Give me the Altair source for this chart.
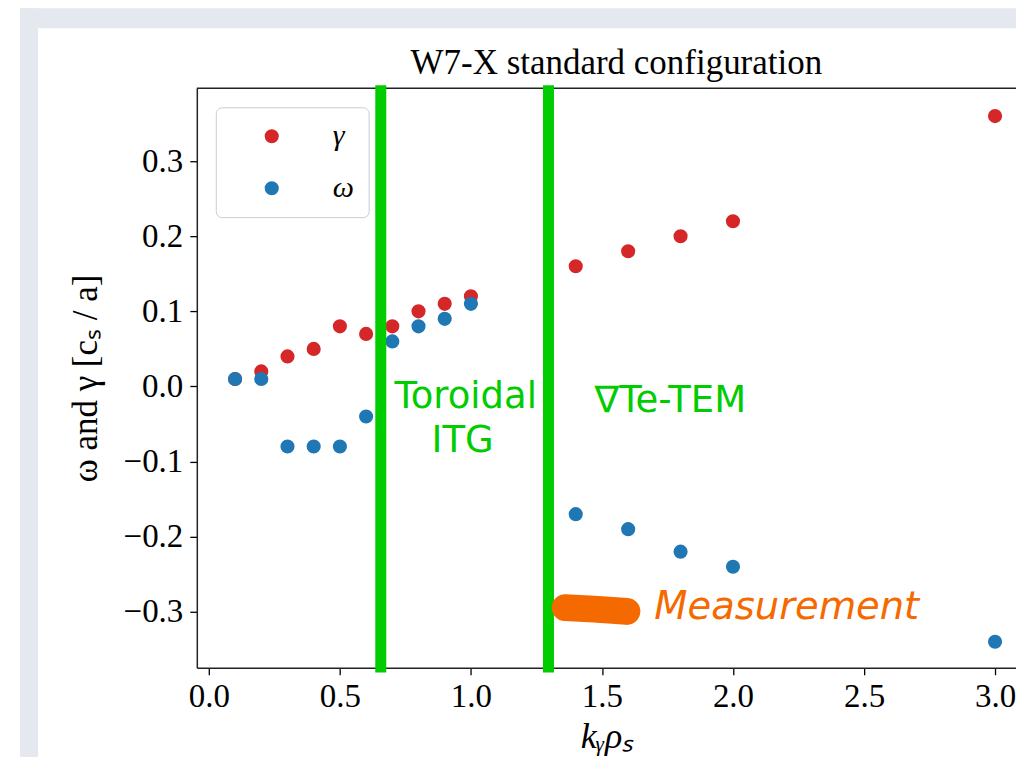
import altair as alt
import pandas as pd

# ---- data ----
ky = [0.1, 0.2, 0.3, 0.4, 0.5, 0.6, 0.7, 0.8, 0.9, 1.0, 1.4, 1.6, 1.8, 2.0, 3.0]
gamma = [0.01, 0.02, 0.04, 0.05, 0.08, 0.07, 0.08, 0.10, 0.11, 0.12, 0.16, 0.18, 0.20, 0.22, 0.36]
omega = [0.01, 0.01, -0.08, -0.08, -0.08, -0.04, 0.06, 0.08, 0.09, 0.11, -0.17, -0.19, -0.22, -0.24, -0.34]
series_names = ["γ", "ω"]
series_colors = ["#d62728", "#1f77b4"]

x_ticks = [0.0, 0.5, 1.0, 1.5, 2.0, 2.5, 3.0]
y_ticks = [-0.3, -0.2, -0.1, 0.0, 0.1, 0.2, 0.3]
x_domain = [-0.046, 3.08]
y_domain = [-0.3745, 0.397]

title_text = ["W7-X standard configuration"]
title_x = [1.555]
title_y = [0.430]

boundary_x = [0.656, 1.296]
boundary_top = [0.401, 0.401]
boundary_bottom = [-0.381, -0.381]

regime_labels = ["Toroidal", "ITG", "∇Te-TEM"]
regime_x = [0.98, 0.968, 1.761]
regime_y = [-0.0146, -0.072, -0.020]

measure_x = [1.36, 1.47, 1.595]
measure_y = [-0.2945, -0.2965, -0.2995]
measure_label = ["Measurement"]
measure_label_x = [1.70]
measure_label_y = [-0.294]

GREEN = "#00cc00"
ORANGE = "#f56a00"
FRAME_GRAY = "#e5e8ee"

# ---- tables ----
pts = pd.DataFrame({
    "k": ky + ky,
    "v": gamma + omega,
    "s": [series_names[0]] * len(ky) + [series_names[1]] * len(ky),
})
bounds = pd.DataFrame({"k": boundary_x, "top": boundary_top, "bot": boundary_bottom})
regimes = pd.DataFrame({"k": regime_x, "v": regime_y, "t": regime_labels})
meas = pd.DataFrame({"k": measure_x, "v": measure_y})
meas_lab = pd.DataFrame({"k": measure_label_x, "v": measure_label_y, "t": measure_label})
ttl = pd.DataFrame({"k": title_x, "v": title_y, "t": title_text})
one = pd.DataFrame({"a": [0]})

xs = alt.Scale(domain=x_domain, nice=False, zero=False)
ys = alt.Scale(domain=y_domain, nice=False, zero=False)

x_axis = alt.Axis(
    values=x_ticks, format=".1f", title="kᵧρₛ", grid=False,
    labelFont="Liberation Serif", labelFontSize=33, labelColor="black", labelPadding=6,
    titleFont="Liberation Serif", titleFontSize=36, titleFontStyle="italic",
    titleFontWeight="normal", titleColor="black", titlePadding=6,
    tickSize=7, tickWidth=1.3, tickColor="black",
    domainColor="#222222", domainWidth=1.5,
)
y_axis = alt.Axis(
    values=y_ticks, format=".1f", title="ω and γ [cₛ / a]", grid=False,
    labelFont="Liberation Serif", labelFontSize=33, labelColor="black", labelPadding=7,
    titleFont="Liberation Serif", titleFontSize=35, titleFontWeight="normal",
    titleColor="black", titlePadding=20,
    tickSize=7, tickWidth=1.3, tickColor="black",
    domainColor="#222222", domainWidth=1.5,
)

# decorative page frame
frame_left = alt.Chart(one).mark_rect(color=FRAME_GRAY).encode(
    x=alt.value(-177), x2=alt.value(-159), y=alt.value(-80), y2=alt.value(690))
frame_top = alt.Chart(one).mark_rect(color=FRAME_GRAY).encode(
    x=alt.value(-177), x2=alt.value(830), y=alt.value(-80), y2=alt.value(-60))

top_spine = alt.Chart(one).mark_rule(color="#222222", strokeWidth=1.5).encode(
    y=alt.datum(y_domain[1], scale=ys))

points = alt.Chart(pts).mark_circle(size=200, opacity=1).encode(
    x=alt.X("k:Q", scale=xs, axis=x_axis),
    y=alt.Y("v:Q", scale=ys, axis=y_axis),
    color=alt.Color("s:N", scale=alt.Scale(domain=series_names, range=series_colors),
                    legend=alt.Legend(title=None)),
    order=alt.Order("idx:Q"),
).transform_window(idx="row_number()")

rules = alt.Chart(bounds).mark_rule(color=GREEN, strokeWidth=11).encode(
    x=alt.X("k:Q", scale=xs), y=alt.Y("top:Q", scale=ys), y2="bot:Q")

blob = alt.Chart(meas).mark_line(color=ORANGE, strokeWidth=27, strokeCap="round",
                                 strokeJoin="round").encode(
    x=alt.X("k:Q", scale=xs), y=alt.Y("v:Q", scale=ys))

regime_text = alt.Chart(regimes).mark_text(
    color=GREEN, font="DejaVu Sans", fontSize=37, align="center", baseline="middle").encode(
    x=alt.X("k:Q", scale=xs), y=alt.Y("v:Q", scale=ys), text="t:N")

meas_text = alt.Chart(meas_lab).mark_text(
    color=ORANGE, font="DejaVu Sans", fontSize=38.5, fontStyle="italic",
    align="left", baseline="middle").encode(
    x=alt.X("k:Q", scale=xs), y=alt.Y("v:Q", scale=ys), text="t:N")

title_mark = alt.Chart(ttl).mark_text(
    color="black", font="Liberation Serif", fontSize=35, align="center",
    baseline="middle").encode(
    x=alt.X("k:Q", scale=xs), y=alt.Y("v:Q", scale=ys), text="t:N")

chart = alt.layer(
    frame_left, frame_top, top_spine, points, rules, blob, regime_text, meas_text, title_mark
).properties(
    width=820, height=580,
    autosize=alt.AutoSizeParams(type="none"),
    padding={"left": 189, "top": 80, "right": 0, "bottom": 89},
    background="white",
).configure_view(stroke=None).configure_legend(
    orient="none", legendX=19, legendY=19,
    fillColor="white", strokeColor="#cccccc", cornerRadius=6, padding=14,
    symbolOffset=27, labelOffset=46, symbolSize=200, symbolType="circle",
    symbolStrokeWidth=0,
    labelFont="Liberation Serif", labelFontStyle="italic", labelFontSize=30,
    labelColor="black", rowPadding=22,
)

chart.save("out.html", embed_options={"renderer": "svg", "actions": False})
